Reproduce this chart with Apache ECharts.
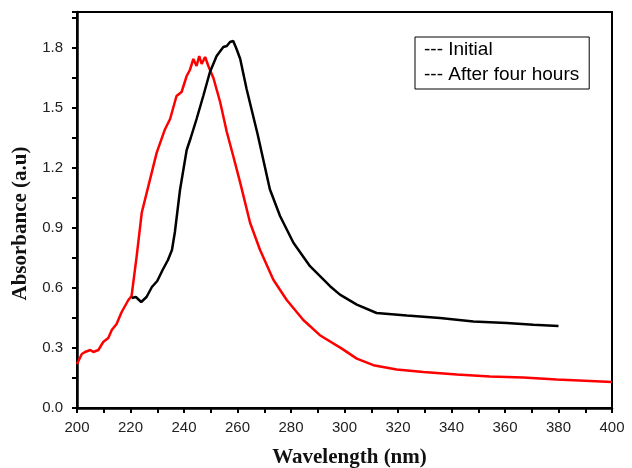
<!DOCTYPE html>
<html>
<head>
<meta charset="utf-8">
<script src="https://cdn.jsdelivr.net/npm/echarts@6/dist/echarts.min.js"></script>
<style>
  html, body { margin: 0; padding: 0; background: #fff; }
  #chart { width: 632px; height: 468px; }
</style>
</head>
<body>
<div id="chart"></div>
<script>
// Initial spectrum (black)
const initialWl = [220.4, 222, 224, 226, 228, 230, 232, 234, 235.5, 236.6, 238.5, 241, 242.5, 244.7, 247.2, 249.7, 252.2, 254.7, 256, 257.2, 258.4, 259.5, 261, 263.4, 267.5, 272.1, 275.9, 280.9, 287.1, 294.6, 298.3, 304.6, 312, 323.3, 335.7, 348.2, 360.6, 370.6, 380];
const initialAbs = [0.55, 0.555, 0.53, 0.555, 0.605, 0.635, 0.69, 0.74, 0.79, 0.88, 1.09, 1.29, 1.35, 1.445, 1.56, 1.68, 1.76, 1.805, 1.81, 1.83, 1.835, 1.8, 1.746, 1.595, 1.37, 1.094, 0.96, 0.826, 0.709, 0.609, 0.567, 0.517, 0.475, 0.462, 0.45, 0.433, 0.425, 0.416, 0.41];

// After four hours (red)
const afterWl = [200, 201.8, 203, 205, 206.1, 208, 209.8, 211.7, 213, 214.8, 216.7, 219.2, 220.4, 222.3, 224.2, 227.3, 229.8, 232.9, 234.8, 237.2, 239.1, 241, 242.2, 243.5, 244.7, 245.7, 246.6, 247.9, 249.1, 251, 253.5, 256, 258.4, 261, 264.7, 268.4, 273.4, 278.4, 284.6, 290.8, 299, 304.6, 310.8, 319.5, 329.5, 342, 354.4, 366.8, 379.3, 391.8, 400];
const afterAbs = [0.22, 0.27, 0.28, 0.29, 0.28, 0.29, 0.33, 0.35, 0.39, 0.42, 0.48, 0.54, 0.56, 0.758, 0.976, 1.143, 1.277, 1.394, 1.445, 1.56, 1.58, 1.66, 1.69, 1.745, 1.71, 1.76, 1.72, 1.755, 1.71, 1.65, 1.53, 1.38, 1.26, 1.127, 0.926, 0.791, 0.641, 0.54, 0.44, 0.364, 0.297, 0.247, 0.214, 0.192, 0.18, 0.168, 0.158, 0.152, 0.142, 0.135, 0.13];

const xTicks = [200, 220, 240, 260, 280, 300, 320, 340, 360, 380, 400];
const yTicks = [0.0, 0.3, 0.6, 0.9, 1.2, 1.5, 1.8];

const toPairs = (xs, ys) => xs.map((x, i) => [x, ys[i]]);

const chart = echarts.init(document.getElementById('chart'));

const labelFont = { fontFamily: 'Liberation Sans, Arial, sans-serif', fontSize: 15, color: '#222' };
const nameFont = { fontFamily: 'Liberation Serif, Times New Roman, serif', fontSize: 21, fontWeight: 'bold', color: '#111' };

chart.setOption({
  animation: false,
  grid: {
    left: 77, right: 20, top: 12, bottom: 60,
    outerBoundsMode: 'none',
    containLabel: false,
    show: true, borderColor: '#000', borderWidth: 2
  },
  legend: {
    left: 415, top: 37,
    orient: 'vertical',
    icon: 'none',
    itemWidth: 0,
    itemHeight: 20,
    itemGap: 5,
    padding: [3, 10, 5, 4],
    borderColor: '#000',
    borderWidth: 1,
    formatter: '--- {name}',
    textStyle: { fontFamily: 'Liberation Sans, Arial, sans-serif', fontSize: 19, color: '#000' },
    data: ['Initial', 'After four hours']
  },
  xAxis: {
    type: 'value',
    min: 200, max: 400, interval: 10,
    name: 'Wavelength (nm)',
    nameLocation: 'middle',
    nameGap: 39,
    nameTextStyle: Object.assign({ padding: [0, 0, 0, 10] }, nameFont),
    axisLine: { lineStyle: { color: '#000', width: 2.5 } },
    axisTick: { length: 5, lineStyle: { color: '#000', width: 2 } },
    axisLabel: Object.assign({
      margin: 12,
      formatter: v => xTicks.includes(v) ? String(v) : ''
    }, labelFont),
    splitLine: { show: false }
  },
  yAxis: {
    type: 'value',
    min: 0, max: 1.98, interval: 0.15,
    name: 'Absorbance (a.u)',
    nameLocation: 'middle',
    nameGap: 44,
    nameTextStyle: Object.assign({ padding: [0, 27, 0, 0] }, nameFont),
    axisLine: { lineStyle: { color: '#000', width: 2.5 } },
    axisTick: { length: 5, lineStyle: { color: '#000', width: 2 } },
    axisLabel: Object.assign({
      margin: 14,
      formatter: v => {
        const t = yTicks.find(k => Math.abs(k - v) < 1e-6);
        return t === undefined ? '' : t.toFixed(1);
      }
    }, labelFont),
    splitLine: { show: false }
  },
  series: [
    {
      name: 'Initial',
      type: 'line',
      data: toPairs(initialWl, initialAbs),
      showSymbol: false,
      lineStyle: { color: '#000', width: 2.5 },
      itemStyle: { color: '#000' },
      z: 3
    },
    {
      name: 'After four hours',
      type: 'line',
      data: toPairs(afterWl, afterAbs),
      showSymbol: false,
      lineStyle: { color: '#ff0000', width: 2.5 },
      itemStyle: { color: '#ff0000' },
      z: 2
    }
  ]
});
</script>
</body>
</html>
